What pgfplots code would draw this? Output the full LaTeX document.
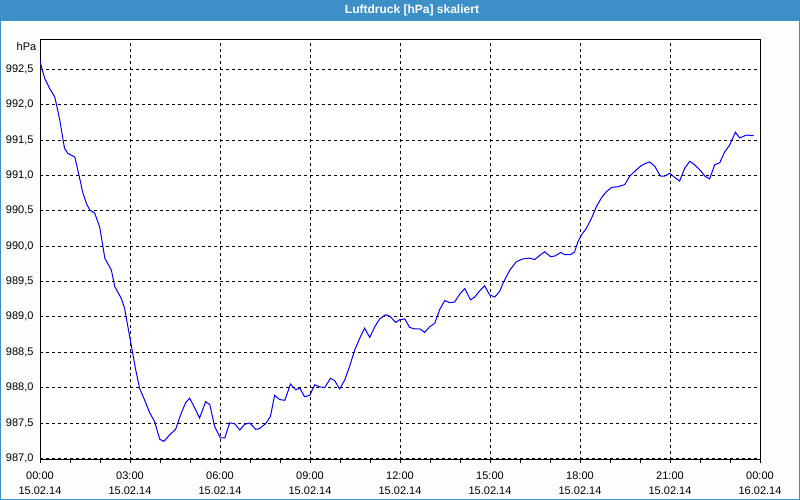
\documentclass[border=0pt]{standalone}
\usepackage{pgfplots}
\pgfplotsset{compat=1.18}
\usepackage{fontspec}
\setmainfont{Liberation Sans}
\definecolor{titlebar}{RGB}{61,143,199}
\definecolor{bgc}{RGB}{252,254,252}
\begin{document}
\begin{tikzpicture}
\useasboundingbox (0pt,0pt) rectangle (800pt,500pt);
\fill[bgc] (0pt,0pt) rectangle (800pt,500pt);
\fill[titlebar] (0pt,479pt) rectangle (800pt,500pt);
\draw[titlebar, line width=2pt] (0pt,0pt) rectangle (800pt,500pt);
\node[text=white, font=\fontsize{12}{14}\bfseries\selectfont] at (412pt,489.5pt) {Luftdruck [hPa] skaliert};
\node[anchor=east, inner sep=0pt, font=\fontsize{11}{13}\selectfont] at (36.5pt,453.5pt) {hPa};
\begin{axis}[
  at={(40pt,40pt)}, anchor=south west,
  scale only axis, width=720pt, height=420pt,
  xmin=0, xmax=24, ymin=986.976, ymax=992.914,
  axis background/.style={fill=white},
  axis line style={black, line width=1pt},
  grid=major,
  major grid style={black, line width=0.8pt, dash pattern=on 3pt off 3pt},
  xtick={0,3,6,9,12,15,18,21,24},
  xticklabels={{00:00\\15.02.14},{03:00\\15.02.14},{06:00\\15.02.14},{09:00\\15.02.14},{12:00\\15.02.14},{15:00\\15.02.14},{18:00\\15.02.14},{21:00\\15.02.14},{00:00\\16.02.14}},
  minor x tick num=2,
  xtick pos=left,
  tick align=outside,
  major tick length=3pt, minor tick length=3pt,
  xtick style={black, line width=0.8pt},
  ytick={987,987.5,988,988.5,989,989.5,990,990.5,991,991.5,992,992.5},
  yticklabels={{987,0},{987,5},{988,0},{988,5},{989,0},{989,5},{990,0},{990,5},{991,0},{991,5},{992,0},{992,5}},
  ytick style={draw=none},
  ytick pos=left,
  ticklabel style={font=\fontsize{11}{15}\selectfont},
  xticklabel style={align=center, yshift=-5pt},
]
\addplot[blue, line width=1pt] coordinates {
(0.00,992.62) (0.07,992.50) (0.16,992.37) (0.32,992.23) (0.49,992.11) (0.55,992.00)
(0.66,991.78) (0.77,991.50) (0.82,991.38) (0.93,991.31) (1.16,991.26) (1.21,991.17)
(1.30,991.00) (1.43,990.75) (1.55,990.60) (1.66,990.51) (1.82,990.47) (1.99,990.27)
(2.10,989.99) (2.16,989.83) (2.38,989.66) (2.49,989.43) (2.71,989.26) (2.82,989.12)
(2.93,988.86) (3.05,988.58) (3.19,988.25) (3.32,987.99) (3.49,987.82) (3.66,987.64)
(3.82,987.52) (3.99,987.27) (4.13,987.24) (4.32,987.33) (4.52,987.41) (4.71,987.64)
(4.86,987.79) (4.99,987.85) (5.16,987.71) (5.32,987.57) (5.52,987.80) (5.66,987.76)
(5.82,987.45) (6.01,987.29) (6.16,987.29) (6.32,987.50) (6.49,987.49) (6.66,987.40)
(6.82,987.48) (6.99,987.50) (7.19,987.41) (7.32,987.42) (7.52,987.49) (7.68,987.59)
(7.82,987.89) (7.99,987.83) (8.16,987.82) (8.35,988.05) (8.52,987.97) (8.66,987.99)
(8.82,987.87) (8.99,987.89) (9.16,988.04) (9.32,988.01) (9.49,988.00) (9.68,988.13)
(9.82,988.10) (9.99,987.98) (10.16,988.11) (10.32,988.30) (10.49,988.53) (10.66,988.70)
(10.82,988.84) (10.99,988.71) (11.16,988.86) (11.32,988.97) (11.52,989.03) (11.66,989.01)
(11.86,988.92) (11.99,988.96) (12.16,988.97) (12.32,988.85) (12.49,988.83) (12.66,988.83)
(12.82,988.78) (12.99,988.86) (13.16,988.91) (13.32,989.10) (13.49,989.23) (13.66,989.20)
(13.82,989.21) (13.99,989.32) (14.16,989.40) (14.35,989.24) (14.49,989.28) (14.66,989.37)
(14.82,989.44) (14.99,989.31) (15.16,989.28) (15.32,989.36) (15.46,989.50) (15.66,989.66)
(15.88,989.78) (16.10,989.82) (16.32,989.83) (16.49,989.81) (16.66,989.87) (16.82,989.92)
(17.02,989.85) (17.16,989.86) (17.36,989.91) (17.49,989.88) (17.69,989.88) (17.82,989.92)
(17.93,990.06) (18.05,990.16) (18.21,990.25) (18.38,990.39) (18.55,990.56) (18.71,990.68)
(18.88,990.77) (19.05,990.83) (19.27,990.84) (19.49,990.87) (19.66,990.99) (19.88,991.08)
(20.05,991.14) (20.19,991.17) (20.32,991.19) (20.49,991.13) (20.68,990.99) (20.82,990.99)
(20.99,991.03) (21.16,990.97) (21.32,990.92) (21.49,991.10) (21.66,991.20) (21.82,991.15)
(21.99,991.08) (22.16,990.99) (22.32,990.95) (22.49,991.15) (22.66,991.18) (22.82,991.33)
(22.99,991.43) (23.18,991.61) (23.32,991.53) (23.55,991.57) (23.79,991.56)
};
\end{axis}
\end{tikzpicture}
\end{document}
